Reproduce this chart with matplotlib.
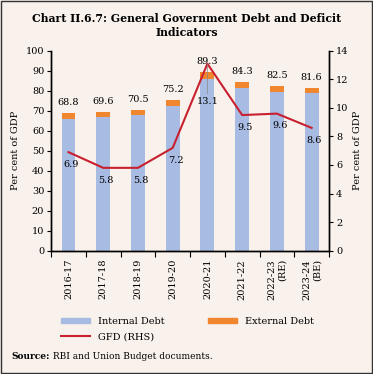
import numpy as np
import matplotlib.pyplot as plt
from matplotlib.patches import Patch, Rectangle
from matplotlib.lines import Line2D

# data
years = ["2016-17", "2017-18", "2018-19", "2019-20", "2020-21", "2021-22",
         "2022-23\n(RE)", "2023-24\n(BE)"]
internal_debt = [66.0, 66.9, 67.8, 72.3, 86.0, 81.3, 79.3, 78.8]
total_debt = [68.8, 69.6, 70.5, 75.2, 89.3, 84.3, 82.5, 81.6]
external_debt = [t - i for t, i in zip(total_debt, internal_debt)]
gfd = [6.9, 5.8, 5.8, 7.2, 13.1, 9.5, 9.6, 8.6]

BG = "#F8F1EC"
BLUE = "#A8BBE2"
ORANGE = "#F0862E"
RED = "#C9202F"

plt.rcParams["font.family"] = "DejaVu Serif"

fig = plt.figure(figsize=(3.73, 3.74), dpi=100, facecolor=BG)
fig.patches.append(Rectangle((0.003, 0.003), 0.994, 0.994, transform=fig.transFigure,
                             fill=False, edgecolor="#333333", linewidth=1.0))

ax = fig.add_axes([0.137, 0.33, 0.745, 0.534])
ax.set_facecolor(BG)
ax2 = ax.twinx()

x = np.arange(len(years))
ax.bar(x, internal_debt, width=0.4, color=BLUE, zorder=2)
ax.bar(x, external_debt, width=0.4, bottom=internal_debt, color=ORANGE, zorder=2)
for xi, t in zip(x, total_debt):
    ax.text(xi, t + 3, f"{t:.1f}", ha="center", va="bottom", fontsize=7)

ax2.plot(x, gfd, color=RED, linewidth=1.5, zorder=3)
for xi, g in zip(x, gfd):
    if g > 12:
        # label sits inside the bar, tied to the point by a thin leader
        ax2.annotate(f"{g:.1f}", xy=(xi, g), xytext=(xi, g - 2.3), ha="center",
                     va="top", fontsize=7,
                     arrowprops=dict(arrowstyle="-", color="#888888", lw=0.5,
                                     shrinkA=0, shrinkB=0))
    else:
        ax2.text(xi + 0.08, g - 0.55, f"{g:.1f}", ha="center", va="top", fontsize=7)

ax.set_xlim(-0.5, len(years) - 0.5)
ax.set_ylim(0, 100)
ax.set_yticks(np.arange(0, 101, 10))
ax2.set_ylim(0, 14)
ax2.set_yticks(np.arange(0, 15, 2))

# tick marks between categories, labels centred on the bars
ax.set_xticks(np.arange(-0.5, len(years), 1.0))
ax.set_xticklabels([])
ax.set_xticks(x, minor=True)
ax.set_xticklabels(years, minor=True, rotation=90, multialignment="right",
                   fontsize=7)
ax.tick_params(axis="x", which="minor", length=0, pad=6)
ax.tick_params(axis="x", which="major", length=4, width=0.8)
ax.tick_params(axis="y", labelsize=7, length=3, width=0.8, pad=2)
ax2.tick_params(axis="y", labelsize=7, length=3, width=0.8, pad=2)

for a in (ax, ax2):
    a.spines["top"].set_visible(False)
    for s in ("left", "right", "bottom"):
        a.spines[s].set_linewidth(1.0)
ax.set_ylabel("Per cent of GDP", fontsize=7, labelpad=4)
ax2.set_ylabel("Per cent of GDP", fontsize=7, labelpad=3)

fig.text(0.5, 0.966, "Chart II.6.7: General Government Debt and Deficit\nIndicators",
         ha="center", va="top", fontsize=7.8, fontweight="bold", linespacing=1.4)

handles = [Patch(color=BLUE), Line2D([], [], color=RED, lw=1.5), Patch(color=ORANGE)]
labels = ["Internal Debt", "GFD (RHS)", "External Debt"]
fig.legend(handles, labels, ncol=2, loc="upper left", bbox_to_anchor=(0.14, 0.175),
           frameon=False, fontsize=7, handlelength=3.0, handleheight=0.45,
           columnspacing=4.5, labelspacing=0.6)

src = fig.text(0.03, 0.035, "Source:", fontsize=6.5, fontweight="bold", va="bottom")
ax.annotate(" RBI and Union Budget documents.", xy=(1, 0), xycoords=src,
            va="bottom", fontsize=6.5, annotation_clip=False)

fig.savefig("out.png", dpi=100, facecolor=BG)
